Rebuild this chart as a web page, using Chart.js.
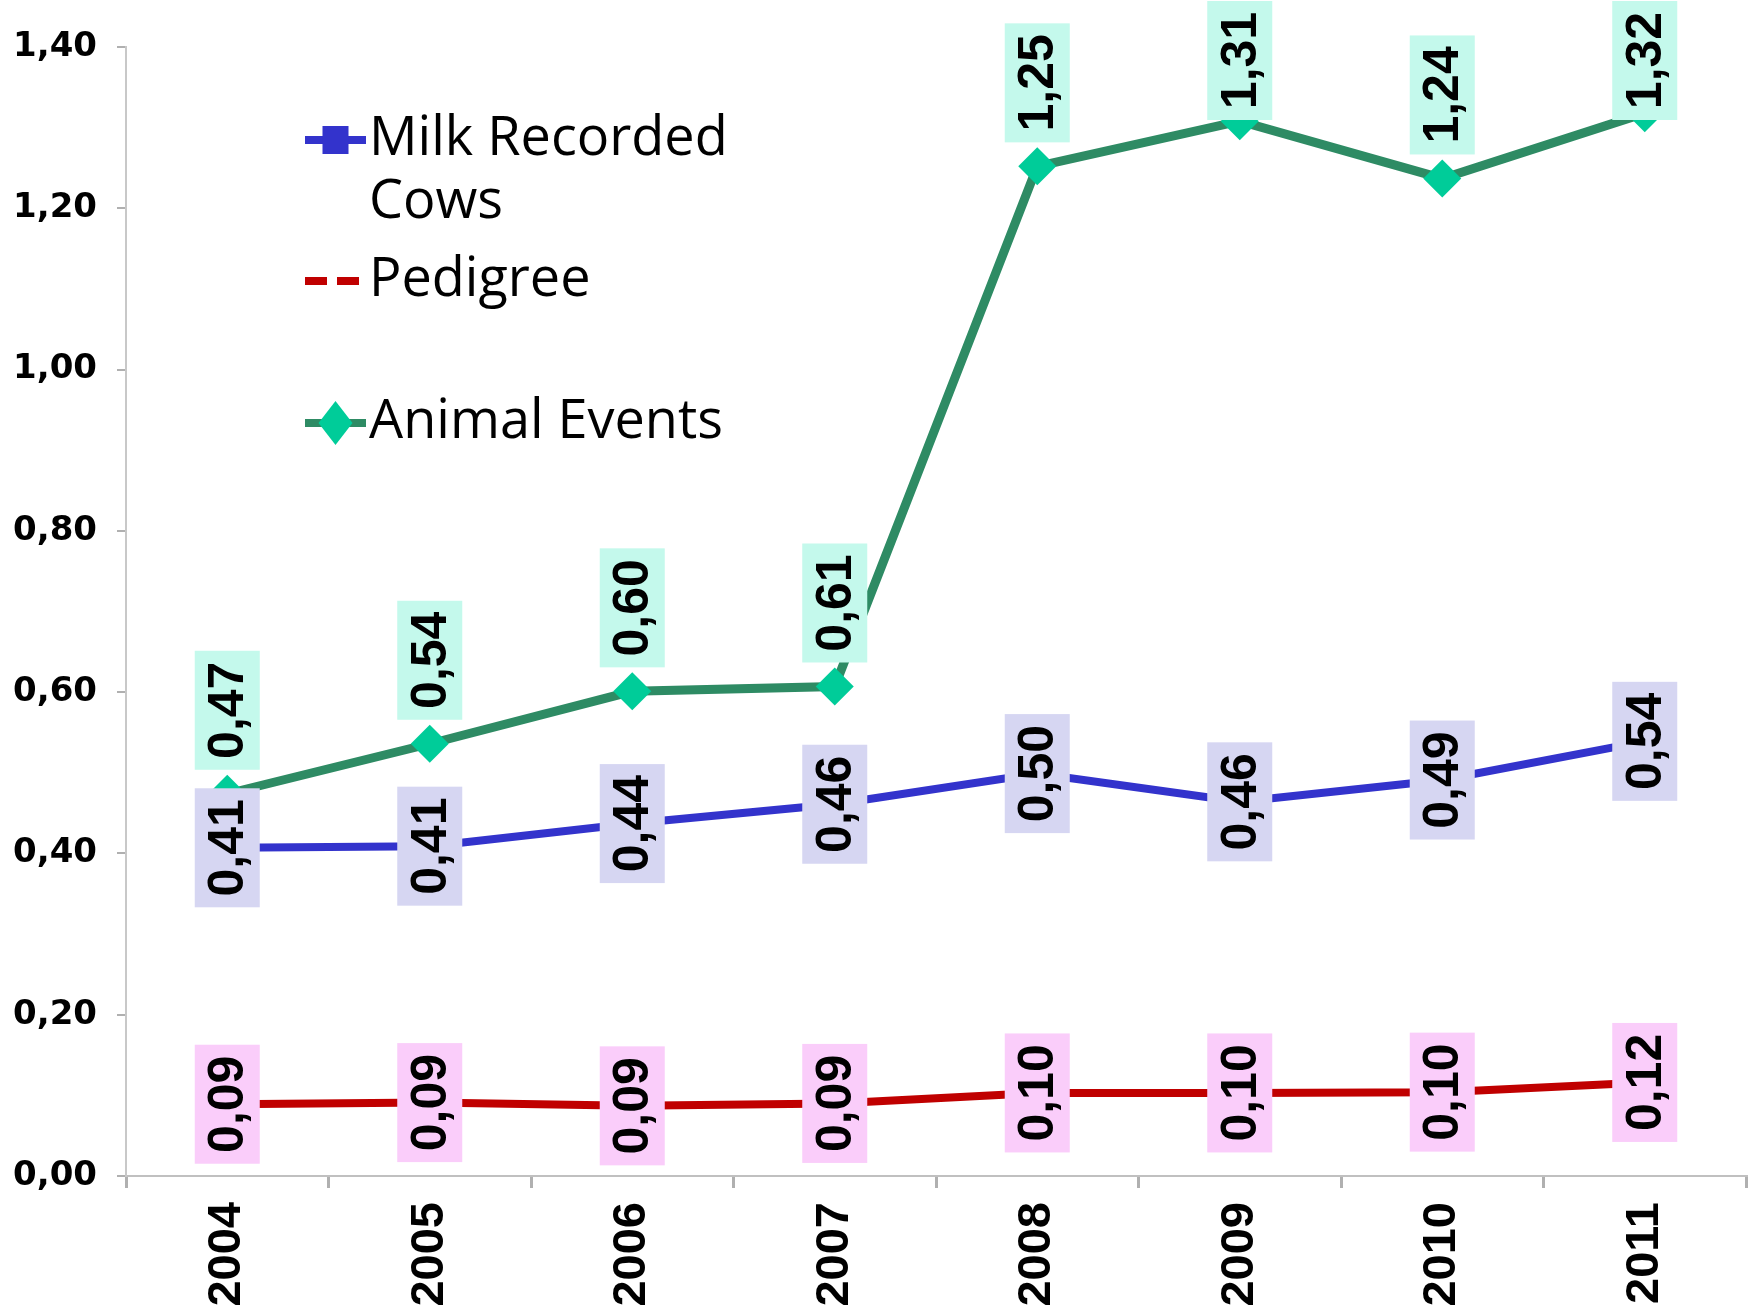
<!DOCTYPE html>
<html>
<head>
<meta charset="utf-8">
<script src="https://cdn.jsdelivr.net/npm/chart.js@4/dist/chart.umd.min.js"></script>
<style>
  html, body { margin: 0; padding: 0; background: #fff; }
  #chart { display: block; }
</style>
</head>
<body>
<canvas id="chart" width="1753" height="1316"></canvas>
<script>
const years = ['2004', '2005', '2006', '2007', '2008', '2009', '2010', '2011'];
const milkRecorded = [0.407, 0.409, 0.437, 0.461, 0.499, 0.464, 0.491, 0.539];
const pedigree = [0.089, 0.091, 0.087, 0.090, 0.103, 0.103, 0.104, 0.116];
const animalEvents = [0.474, 0.536, 0.601, 0.607, 1.252, 1.308, 1.237, 1.318];
const seriesNames = [['Milk Recorded', 'Cows'], ['Pedigree'], ['Animal Events']];

// numbers are shown with a comma, two decimals
function fmt(v) {
  return v.toFixed(2).replace('.', ',');
}

// Rotated value labels in coloured boxes, drawn over the lines
const valueLabels = {
  id: 'valueLabels',
  afterDatasetsDraw(chart) {
    const c = chart.ctx;
    c.save();
    c.font = 'bold 50px "Liberation Sans"';
    c.textAlign = 'center';
    c.textBaseline = 'middle';

    chart.data.datasets.forEach((ds, i) => {
      const meta = chart.getDatasetMeta(i);
      meta.data.forEach((pt, j) => {
        const w = 65, h = 119;
        let cy = ds.labelAbove ? pt.y - 24 - h / 2 : pt.y;
        cy = Math.max(cy, h / 2 + 1);  // keep inside the canvas

        c.fillStyle = ds.labelBg;
        c.fillRect(pt.x - w / 2, cy - h / 2, w, h);

        c.save();
        c.translate(pt.x + 2, cy);
        c.rotate(-Math.PI / 2);
        c.fillStyle = '#000';
        c.fillText(fmt(ds.data[j]), 0, 0);
        c.restore();
      });
    });
    c.restore();
  }
};

// Legend sits inside the plot, top left
const insideLegend = {
  id: 'insideLegend',
  afterDraw(chart) {
    const c = chart.ctx;
    const rows = [140, 281, 423];
    const x0 = 305, x1 = 366, tx = 369;

    c.save();
    c.font = '54px "Open Sans"';
    c.textBaseline = 'middle';
    c.textAlign = 'left';

    chart.data.datasets.forEach((ds, i) => {
      const y = rows[i];

      c.strokeStyle = ds.borderColor;
      c.lineWidth = 8;
      c.setLineDash(ds.legendDash || []);
      c.beginPath();
      c.moveTo(x0, y);
      c.lineTo(x1, y);
      c.stroke();
      c.setLineDash([]);

      const mx = (x0 + x1) / 2;
      c.fillStyle = ds.pointBackgroundColor;
      if (ds.pointStyle === 'rect') {
        c.fillRect(mx - 13, y - 14, 26, 28);
      } else if (ds.pointStyle === 'rectRot') {
        c.beginPath();
        c.moveTo(mx, y - 22);
        c.lineTo(mx + 17, y);
        c.lineTo(mx, y + 22);
        c.lineTo(mx - 17, y);
        c.closePath();
        c.fill();
      }

      c.fillStyle = '#000';
      seriesNames[i].forEach((line, k) => {
        c.fillText(line, tx, y + k * 63);
      });
    });
    c.restore();
  }
};

const ctx = document.getElementById('chart').getContext('2d');

const chart = new Chart(ctx, {
  type: 'line',
  data: {
    labels: years,
    datasets: [
      {
        label: 'Milk Recorded Cows',
        data: milkRecorded,
        borderColor: '#3333cc',
        borderWidth: 8,
        pointStyle: 'rect',
        pointRadius: 11,
        pointBackgroundColor: '#3333cc',
        pointBorderWidth: 0,
        labelBg: '#d6d6f2',
        labelAbove: false,
      },
      {
        label: 'Pedigree',
        data: pedigree,
        borderColor: '#c00000',
        borderWidth: 8,
        pointRadius: 0,
        pointBackgroundColor: '#c00000',
        legendDash: [22, 10],
        labelBg: '#facdfa',
        labelAbove: false,
      },
      {
        label: 'Animal Events',
        data: animalEvents,
        borderColor: '#2e8b64',
        borderWidth: 9,
        pointStyle: 'rectRot',
        pointRadius: 19,
        pointBackgroundColor: '#00cc99',
        pointBorderWidth: 0,
        labelBg: '#c4f9ec',
        labelAbove: true,
      },
    ],
  },
  options: {
    responsive: false,
    animation: false,
    devicePixelRatio: 1,
    layout: {
      autoPadding: false,  // big markers would otherwise shrink the plot
      padding: {top: 47, right: 7, left: 0, bottom: 0},
    },
    plugins: {
      legend: {display: false},
      tooltip: {enabled: false},
    },
    scales: {
      x: {
        offset: true,
        grid: {
          offset: true,
          drawOnChartArea: false,
          drawTicks: true,
          tickLength: 12,
          color: '#b0b0b0',
          lineWidth: 3,
        },
        border: {color: '#c0c0c0', width: 2},
        ticks: {
          color: '#000',
          minRotation: 90,
          maxRotation: 90,
          padding: 14,
          font: {family: '"Liberation Sans"', size: 47, weight: 'bold'},
        },
        afterFit: (s) => { s.height = 140; },
      },
      y: {
        min: 0,
        max: 1.4,
        grid: {
          drawOnChartArea: false,
          drawTicks: true,
          tickLength: 9,
          color: '#b0b0b0',
          lineWidth: 2,
        },
        border: {color: '#c8c8c8', width: 2},
        ticks: {
          stepSize: 0.2,
          color: '#000',
          padding: 20,
          font: {family: '"DejaVu Sans"', size: 34, weight: 'bold'},
          callback: (v) => fmt(v),
        },
        afterFit: (s) => { s.width = 126; },
      },
    },
  },
  plugins: [valueLabels, insideLegend],
});
</script>
</body>
</html>
